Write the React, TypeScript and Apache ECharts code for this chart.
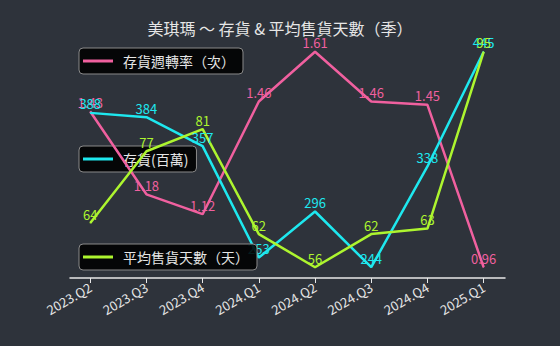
import React, { useEffect, useRef } from "react";
import * as echarts from "echarts";

const categories = ["2023.Q2", "2023.Q3", "2023.Q4", "2024.Q1", "2024.Q2", "2024.Q3", "2024.Q4", "2025.Q1"];
const turnover = [1.43, 1.18, 1.12, 1.46, 1.61, 1.46, 1.45, 0.96];
const inventory = [388, 384, 357, 253, 296, 244, 338, 445];
const saleDays = [64, 77, 81, 62, 56, 62, 63, 95];

const NAME_T = "存貨週轉率（次）";
const NAME_I = "存貨(百萬)";
const NAME_D = "平均售貨天數（天）";

const PINK = "#f0609f";
const CYAN = "#1ee8ef";
const GREEN = "#adf52f";
const FONT = "'Noto Sans CJK TC', 'Noto Sans', sans-serif";

const toPts = (arr: number[]) => arr.map((v, i) => [i, v]);

const yAxis = () => ({
  type: "value",
  show: false,
  gridIndex: 0,
  min: (e: any) => e.min - 0.05 * (e.max - e.min),
  max: (e: any) => e.max + 0.05 * (e.max - e.min),
  splitLine: { show: false },
});

const legend = (name: string, color: string, top: number, z: number) => ({
  data: [name],
  left: 79,
  top,
  orient: "horizontal",
  backgroundColor: "rgba(0,0,0,0.88)",
  borderColor: "#8a8a8a",
  borderWidth: 1,
  borderRadius: 4,
  padding: [6, 8, 6, 4],
  itemWidth: 30,
  itemHeight: 3,
  icon: "rect",
  z,
  selectedMode: false,
  textStyle: { color: "#e6e6e6", fontSize: 14, fontFamily: FONT, padding: [0, 0, 0, 5] },
  itemStyle: { color },
});

const series = (name: string, data: number[], color: string, yIdx: number) => ({
  name,
  type: "line",
  yAxisIndex: yIdx,
  data: toPts(data),
  symbol: "circle",
  symbolSize: 1,
  showSymbol: true,
  z: 5,
  lineStyle: { color, width: 2.5 },
  itemStyle: { color },
  label: {
    show: true,
    position: "top",
    distance: 2,
    color,
    fontSize: 13,
    fontFamily: FONT,
  },
});

export default function App() {
  const ref = useRef<HTMLDivElement>(null);
  useEffect(() => {
    document.body.style.margin = "0";
    const chart = echarts.init(ref.current!, null, { renderer: "svg" });
    chart.setOption({
      animation: false,
      backgroundColor: "#2e333b",
      title: {
        text: "美琪瑪 ～ 存貨 & 平均售貨天數（季）",
        left: "center",
        top: 15,
        textStyle: { color: "#e6e6e6", fontSize: 16, fontWeight: "normal", fontFamily: FONT },
      },
      legend: [
        legend(NAME_T, PINK, 48, 1),
        legend(NAME_I, CYAN, 146, 1),
        legend(NAME_D, GREEN, 244, 10),
      ],
      grid: { left: 70, right: 55, top: 41, bottom: 68 },
      xAxis: {
        type: "value",
        min: -0.36,
        max: 7.38,
        splitLine: { show: false },
        axisLine: { show: true, onZero: false, lineStyle: { color: "#e8e8e8", width: 1.5 } },
        axisTick: {
          show: true,
          length: 5,
          customValues: categories.map((_, i) => i),
          lineStyle: { color: "#e8e8e8", width: 1 },
        },
        axisLabel: {
          customValues: categories.map((_, i) => i),
          formatter: (v: number) => categories[Math.round(v)] ?? "",
          rotate: 30,
          color: "#e6e6e6",
          fontSize: 13,
          fontFamily: FONT,
          margin: 8,
        },
      },
      yAxis: [yAxis(), yAxis(), yAxis()],
      series: [
        series(NAME_T, turnover, PINK, 0),
        series(NAME_I, inventory, CYAN, 1),
        series(NAME_D, saleDays, GREEN, 2),
      ],
    });
    return () => chart.dispose();
  }, []);
  return <div ref={ref} style={{ width: 560, height: 346 }} />;
}
